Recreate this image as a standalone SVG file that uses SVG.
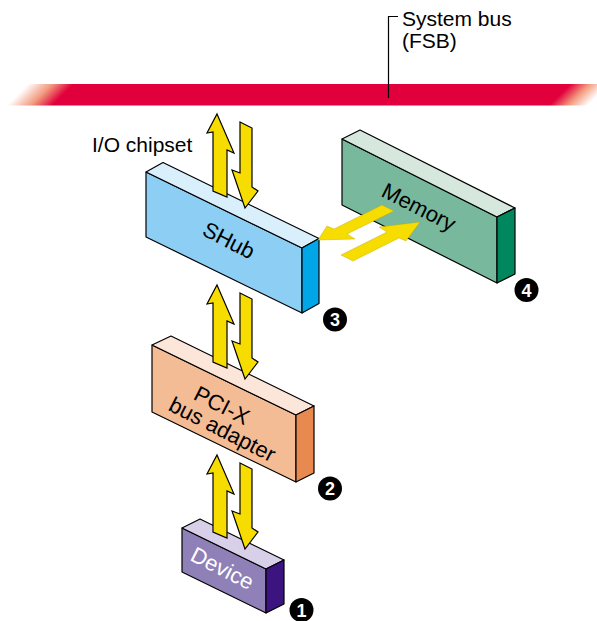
<svg xmlns="http://www.w3.org/2000/svg" xmlns:xlink="http://www.w3.org/1999/xlink" width="597" height="621" viewBox="0 0 597 621">
  <style>
    .edge { stroke: #000; stroke-width: 1.2; stroke-linejoin: round; }
    .lbl { font-family: "Liberation Sans", Arial, sans-serif; font-size: 21px; fill: #000; }
    .box { font-family: "Liberation Sans", Arial, sans-serif; font-size: 22px; text-anchor: middle; }
    .arr { fill: #f7dc00; stroke: #000; stroke-width: 1.2; stroke-linejoin: miter; }
    .arrflat { fill: #f7dc00; stroke: #b8a400; stroke-width: 0.4; }
    .num circle { fill: #000; }
    .num text { font-family: "Liberation Sans", Arial, sans-serif; font-size: 18px; font-weight: bold; fill: #fff; text-anchor: middle; }
  </style>
  <defs>
    <linearGradient id="busGrad" gradientUnits="userSpaceOnUse" x1="0" y1="0" x2="350" y2="350">
      <stop offset="0.160" stop-color="#ffffff"/>
      <stop offset="0.195" stop-color="#f29a7e"/>
      <stop offset="0.225" stop-color="#e1003b"/>
      <stop offset="0.935" stop-color="#e1003b"/>
      <stop offset="0.962" stop-color="#f29a7e"/>
      <stop offset="0.990" stop-color="#ffffff"/>
    </linearGradient>
    <g id="arrowPair">
      <polygon class="arr" points="217,114 234,153 227,150 227,197 213,191 213,132 207,133"/>
      <polygon class="arr" points="240,122 252,128 252,187 258,191 245,208 232,170 240,173"/>
    </g>
  </defs>

  <g id="system-bus">
    <rect x="0" y="84" width="597" height="21.5" fill="url(#busGrad)"/>
    <polyline points="398,16.5 388.5,16.5 388.5,98" fill="none" stroke="#000" stroke-width="1.2"/>
    <text class="lbl" x="402" y="26">System bus</text>
    <text class="lbl" x="402" y="48">(FSB)</text>
  </g>

  <g id="io-chipset-label">
    <text class="lbl" x="92" y="152">I/O chipset</text>
  </g>

  <g id="memory">
    <polygon class="edge" fill="#78b89c" points="342,139 497,217 497,283 342,205"/>
    <polygon class="edge" fill="#d6e8de" points="342,139 360,130 515,208 497,217"/>
    <polygon class="edge" fill="#00875e" points="497,217 515,208 515,274 497,283"/>
    <text class="box" fill="#000" transform="translate(418,209) rotate(27)" dy="0.25em">Memory</text>
  </g>

  <g id="shub">
    <polygon class="edge" fill="#8dcff4" points="146,172 302,248 302,313 146,237"/>
    <polygon class="edge" fill="#d9effb" points="146,172 163,162.5 319,238.5 302,248"/>
    <polygon class="edge" fill="#00a6e6" points="302,248 319,238.5 319,303.5 302,313"/>
    <text class="box" fill="#000" transform="translate(229,240) rotate(27)" dy="0.36em">SHub</text>
  </g>

  <g id="pcix-bus-adapter">
    <polygon class="edge" fill="#f4bc94" points="152,345 296,415 296,482 152,412"/>
    <polygon class="edge" fill="#fce6da" points="152,345 171,336 314,406 296,415"/>
    <polygon class="edge" fill="#e88a50" points="296,415 314,406 314,473 296,482"/>
    <text class="box" fill="#000" transform="translate(222,405) rotate(27)" dy="0.36em">PCI-X</text>
    <text class="box" fill="#000" transform="translate(221.5,431) rotate(27)" dy="0.26em">bus adapter</text>
  </g>

  <g id="device">
    <polygon class="edge" fill="#9080b8" points="182,528 266,569 266,613 182,572"/>
    <polygon class="edge" fill="#d8d0e8" points="182,528 200,519 284,560 266,569"/>
    <polygon class="edge" fill="#3c1480" points="266,569 284,560 284,604 266,613"/>
    <text class="box" fill="#fff" transform="translate(222.5,568) rotate(27)" dy="0.36em">Device</text>
  </g>

  <g id="connectors">
    <use xlink:href="#arrowPair" href="#arrowPair"/>
    <use xlink:href="#arrowPair" href="#arrowPair" transform="translate(0,171)"/>
    <use xlink:href="#arrowPair" href="#arrowPair" transform="translate(0,341)"/>
    <polygon class="arrflat" points="318,240 327,226 334,229 382,205 394,211 347,234 355,239"/>
    <polygon class="arrflat" points="341,255 387,232 379,227 420,222 406,241 399,238 353,261"/>
  </g>

  <g id="markers" class="num">
    <g id="num1"><circle cx="301.5" cy="610" r="12"/><text x="301.5" y="616.5">1</text></g>
    <g id="num2"><circle cx="330" cy="488.5" r="12"/><text x="330" y="495">2</text></g>
    <g id="num3"><circle cx="335" cy="319.5" r="12"/><text x="335" y="326">3</text></g>
    <g id="num4"><circle cx="526.5" cy="290" r="12"/><text x="526.5" y="296.5">4</text></g>
  </g>
</svg>
